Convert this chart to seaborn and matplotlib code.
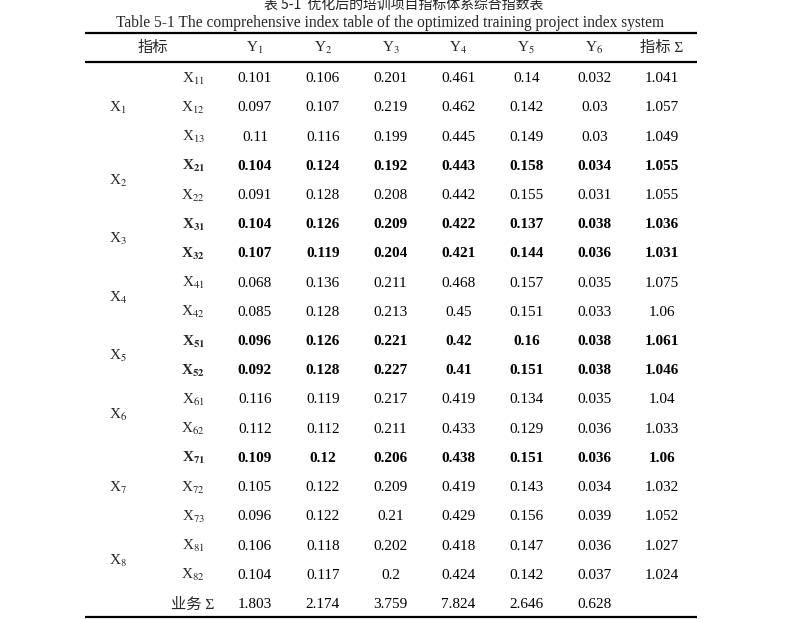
import numpy as np
import pandas as pd
import seaborn as sns
import matplotlib.pyplot as plt
from matplotlib.colors import ListedColormap

# ---- data ----
columns = ["Y$_1$", "Y$_2$", "Y$_3$", "Y$_4$", "Y$_5$", "Y$_6$", "指标 Σ"]
sub_labels = ["11", "12", "13", "21", "22", "31", "32", "41", "42", "51", "52",
              "61", "62", "71", "72", "73", "81", "82"]
groups = ["1", "2", "3", "4", "5", "6", "7", "8"]
group_rows = [[0, 1, 2], [3, 4], [5, 6], [7, 8], [9, 10], [11, 12], [13, 14, 15], [16, 17]]
bold_rows = ["21", "31", "32", "51", "52", "71"]

y1 = ["0.101", "0.097", "0.11", "0.104", "0.091", "0.104", "0.107", "0.068", "0.085",
      "0.096", "0.092", "0.116", "0.112", "0.109", "0.105", "0.096", "0.106", "0.104"]
y2 = ["0.106", "0.107", "0.116", "0.124", "0.128", "0.126", "0.119", "0.136", "0.128",
      "0.126", "0.128", "0.119", "0.112", "0.12", "0.122", "0.122", "0.118", "0.117"]
y3 = ["0.201", "0.219", "0.199", "0.192", "0.208", "0.209", "0.204", "0.211", "0.213",
      "0.221", "0.227", "0.217", "0.211", "0.206", "0.209", "0.21", "0.202", "0.2"]
y4 = ["0.461", "0.462", "0.445", "0.443", "0.442", "0.422", "0.421", "0.468", "0.45",
      "0.42", "0.41", "0.419", "0.433", "0.438", "0.419", "0.429", "0.418", "0.424"]
y5 = ["0.14", "0.142", "0.149", "0.158", "0.155", "0.137", "0.144", "0.157", "0.151",
      "0.16", "0.151", "0.134", "0.129", "0.151", "0.143", "0.156", "0.147", "0.142"]
y6 = ["0.032", "0.03", "0.03", "0.034", "0.031", "0.038", "0.036", "0.035", "0.033",
      "0.038", "0.038", "0.035", "0.036", "0.036", "0.034", "0.039", "0.036", "0.037"]
row_sum = ["1.041", "1.057", "1.049", "1.055", "1.055", "1.036", "1.031", "1.075", "1.06",
           "1.061", "1.046", "1.04", "1.033", "1.06", "1.032", "1.052", "1.027", "1.024"]
col_sum = ["1.803", "2.174", "3.759", "7.824", "2.646", "0.628", ""]

# ---- table frame ----
annot = np.array([y1, y2, y3, y4, y5, y6, row_sum], dtype=object).T
annot = np.vstack([annot, np.array(col_sum, dtype=object)])
df = pd.DataFrame(annot, columns=columns)
mask = df == ""
vals = np.zeros(df.shape)

sns.set_theme(style="white")
plt.rcParams['font.family'] = ['Liberation Serif', 'Noto Sans CJK SC']
plt.rcParams['mathtext.fontset'] = 'stix'
FS = 11
DY = 0.07  # text sits a little below the cell centre

fig = plt.figure(figsize=(7.99, 6.19), dpi=100)
ax = fig.add_axes([221 / 799, 1 - 617 / 619, 475 / 799, 555 / 619])
sns.heatmap(vals, mask=mask.values, cmap=ListedColormap(['white']), cbar=False,
            annot=annot, fmt="", annot_kws={"fontsize": FS, "color": "black"},
            linewidths=0, ax=ax)

n_rows = len(annot)
for t in ax.texts:
    x, y = t.get_position()
    r = int(y)
    t.set_position((x, y + DY))
    if r < len(sub_labels) and sub_labels[r] in bold_rows:
        t.set_fontweight("bold")

ax.set_xticks([])
ax.set_yticks([])
for s in ax.spines.values():
    s.set_visible(False)
ax.set_xlim(0, len(columns))
ax.set_ylim(n_rows, 0)

# header
for j, c in enumerate(columns):
    ax.text(j + 0.5, -0.48, c, ha="center", va="center", fontsize=FS, clip_on=False)
ax.text(-1.0, -0.48, "指标", ha="center", va="center", fontsize=FS, clip_on=False)

# row labels
for i, lab in enumerate(sub_labels):
    w = "bold" if lab in bold_rows else "normal"
    sub = r"$_{\mathbf{%s}}$" % lab if w == "bold" else "$_{%s}$" % lab
    ax.text(-0.41, i + 0.5 + DY, "X" + sub, ha="center", va="center", fontsize=FS,
            fontweight=w, clip_on=False)
ax.text(-0.41, n_rows - 0.5 + DY, "业务 Σ", ha="center", va="center", fontsize=FS,
        clip_on=False)
for g, rows in zip(groups, group_rows):
    ax.text(-1.52, np.mean(rows) + 0.5 + DY, "X$_{%s}$" % g, ha="center", va="center",
            fontsize=FS, clip_on=False)

# rules
for yy in [-0.99, 0, n_rows]:
    ax.plot([-2.0, 7.01], [yy, yy], color="black", lw=1.6, clip_on=False,
            solid_capstyle="butt")

fig.text(404 / 799, 1 - 5 / 619, "表 5-1  优化后的培训项目指标体系综合指数表",
         ha="center", va="center", fontsize=10, color="#222222",
         family=['Noto Sans CJK SC', 'DejaVu Sans'])
fig.text(390 / 799, 1 - 23 / 619,
         "Table 5-1 The comprehensive index table of the optimized training project index system",
         ha="center", va="center", fontsize=11.2)

fig.savefig("out.png", dpi=100)
